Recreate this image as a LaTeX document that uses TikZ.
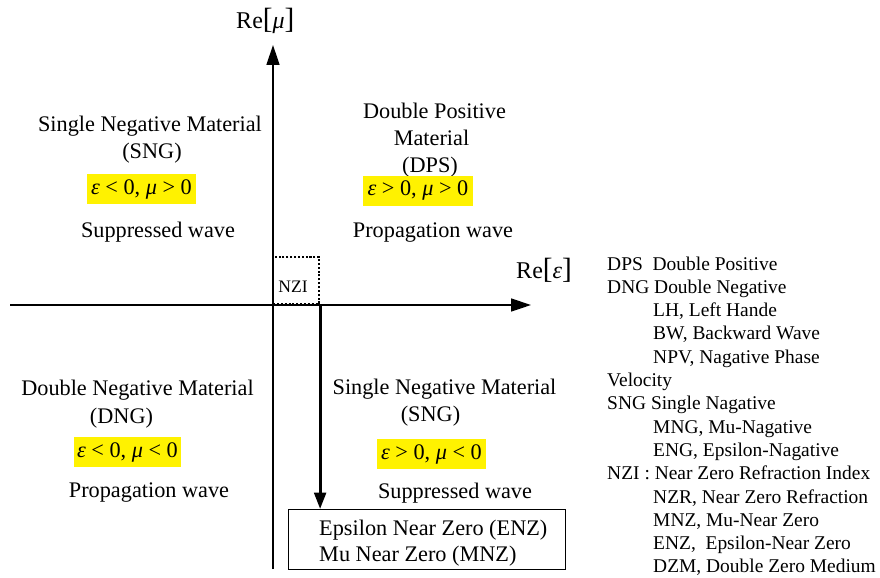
\documentclass[tikz,border=0pt]{standalone}
\usepackage{fontspec}
\setmainfont{Liberation Serif}
\usetikzlibrary{arrows.meta}
\begin{document}
\begin{tikzpicture}[x=0.03cm,y=-0.03cm,
  lbl/.style={anchor=base, inner sep=0pt, font=\fontsize{19}{23}\selectfont},
  hl/.style={fill=yellow, inner sep=0pt, minimum height=0.9cm, font=\fontsize{19}{23}\selectfont},
  leg/.style={anchor=base west, inner sep=0pt, font=\fontsize{16.6}{20}\selectfont},
  axislbl/.style={anchor=base west, inner sep=0pt, font=\fontsize{20.5}{24}\selectfont},
  axisline/.style={line width=1.5pt, -{Triangle[length=17pt,width=11pt]}},
  thickarrow/.style={line width=2.6pt, -{Triangle[length=14pt,width=10pt]}},
  nzibox/.style={draw, dash pattern=on 1.8pt off 1.5pt, line width=1.8pt, inner sep=0pt, minimum width=1.38cm, minimum height=1.41cm, anchor=south west},
  resbox/.style={draw, line width=1.1pt, inner sep=0pt, minimum width=8.31cm, minimum height=1.8cm, anchor=north west}
]
\useasboundingbox (0,0) rectangle (880,577);
\newcommand{\bigbr}[1]{{\fontsize{25}{25}\selectfont #1}}

% axes
\coordinate (vbot) at (273,569);
\coordinate (vtop) at (273,45);
\coordinate (hleft) at (10,305);
\coordinate (hright) at (531,305);
\draw[axisline] (vbot) -- (vtop);
\draw[axisline] (hleft) -- (hright);
\node[axislbl] (mulbl) at (236,28) {Re\bigbr{[}\textit{μ}\bigbr{]}};
\node[axislbl] (epslbl) at (516,278) {Re\bigbr{[}\textit{ε}\bigbr{]}};

% NZI box and arrow
\node[nzibox] (nzi) at (272,305) {};
\node[anchor=base, inner sep=0pt, font=\fontsize{15}{18}\selectfont] (nzitxt) at (293,292) {NZI};
\node[resbox] (res) at (288,509) {};
\draw[thickarrow] (nzi.south east) -- (nzi.south east |- res.north);
\node[anchor=base west, inner sep=0pt, font=\fontsize{19}{23}\selectfont] (enz) at (319,535) {Epsilon Near Zero (ENZ)};
\node[anchor=base west, inner sep=0pt, font=\fontsize{19}{23}\selectfont] (mnz) at (319,561) {Mu Near Zero (MNZ)};

% top-left quadrant
\node[lbl] (tl1) at (150,131) {Single Negative Material};
\node[lbl] (tl2) at (152,158) {(SNG)};
\node[hl, minimum width=3.27cm] (tl3) at (141.5,189) {\textit{ε} < 0, \textit{μ} > 0};
\node[lbl] (tl4) at (158,237) {Suppressed wave};

% top-right quadrant
\node[lbl] (tr1) at (434.5,118) {Double Positive};
\node[lbl] (tr2) at (431.5,145) {Material};
\node[lbl] (tr3) at (430,172) {(DPS)};
\node[hl, minimum width=3.3cm] (tr4) at (418,190.5) {\textit{ε} > 0, \textit{μ} > 0};
\node[lbl] (tr5) at (433,237) {Propagation wave};

% bottom-left quadrant
\node[lbl] (bl1) at (137.5,395) {Double Negative Material};
\node[lbl] (bl2) at (121.5,423) {(DNG)};
\node[hl, minimum width=3.21cm] (bl3) at (127.5,452) {\textit{ε} < 0, \textit{μ} < 0};
\node[lbl] (bl4) at (149,497) {Propagation wave};

% bottom-right quadrant
\node[lbl] (br1) at (444.5,394) {Single Negative Material};
\node[lbl] (br2) at (430.5,421) {(SNG)};
\node[hl, minimum width=3.27cm] (br3) at (431.5,454) {\textit{ε} > 0, \textit{μ} < 0};
\node[lbl] (br4) at (455,498) {Suppressed wave};

% legend
\node[leg] (g1) at (607,270) {DPS\ \ Double Positive};
\node[leg] (g2) at (607,293.3) {DNG Double Negative};
\node[leg] (g3) at (653,316.6) {LH, Left Hande};
\node[leg] (g4) at (653,339.9) {BW, Backward Wave};
\node[leg] (g5) at (653,363.2) {NPV, Nagative Phase};
\node[leg] (g6) at (607,386.5) {Velocity};
\node[leg] (g7) at (607,409.8) {SNG Single Nagative};
\node[leg] (g8) at (653,433.1) {MNG, Mu-Nagative};
\node[leg] (g9) at (653,456.4) {ENG, Epsilon-Nagative};
\node[leg] (g10) at (607,479.7) {NZI : Near Zero Refraction Index};
\node[leg] (g11) at (653,503) {NZR, Near Zero Refraction};
\node[leg] (g12) at (653,526.3) {MNZ, Mu-Near Zero};
\node[leg] (g13) at (653,549.6) {ENZ,\ \ Epsilon-Near Zero};
\node[leg] (g14) at (653,572.9) {DZM, Double Zero Medium};
\end{tikzpicture}
\end{document}
